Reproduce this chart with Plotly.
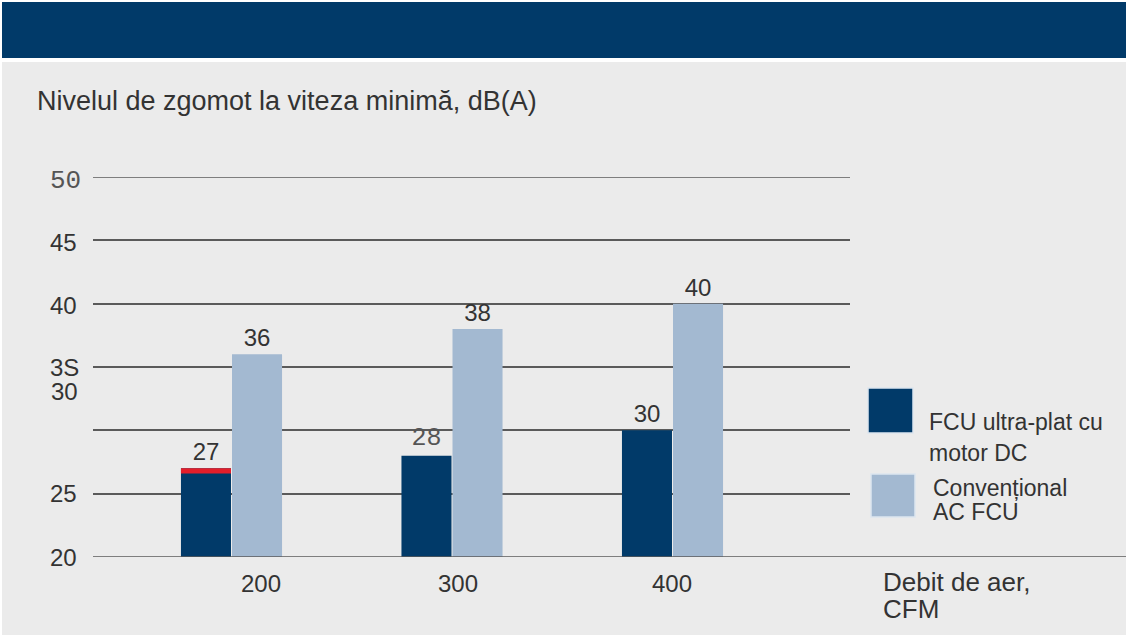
import plotly.graph_objects as go

# ---- data ----
categories = ["200", "300", "400"]
dc_motor = [27, 28, 30]          # FCU ultra-plat cu motor DC
conventional = [36, 38, 40]      # Conventional AC FCU
dc_cap = [0.4, 0, 0]             # red highlight on top of first DC bar
y_tick_vals = [20, 25, 35, 40, 45, 50]
y_tick_text = ["20", "25", "3S", "40", "45", "50"]

W, H = 1126, 635
L, R, T, B = 93, 850, 177, 557
PW, PH = R - L, B - T

def px(x):
    return (x - L) / PW

def py(y):
    return (B - y) / PH

DARK = "#013A69"
LIGHT = "#A3B9D1"
BG = "#EBEBEB"
TXT = "#333333"
SANS = "Liberation Sans, Arial, sans-serif"
MONO = "Liberation Mono, monospace"
MONO_C = "#555555"

x_idx = list(range(len(categories)))

fig = go.Figure()
fig.add_trace(go.Bar(
    x=x_idx, y=dc_motor, offsetgroup="a", marker_color=DARK, marker_line_width=0,
    text=[str(v) for v in dc_motor], textposition="outside",
    textfont=dict(family=[SANS, MONO, SANS], size=[24, 25, 24], color=[TXT, MONO_C, TXT]),
    cliponaxis=False, name="FCU ultra-plat cu motor DC", showlegend=False,
))
fig.add_trace(go.Bar(
    x=x_idx, y=dc_cap, base=[v - c for v, c in zip(dc_motor, dc_cap)], offsetgroup="a",
    marker_color="#E31E2A", marker_line_width=0, showlegend=False, hoverinfo="skip",
))
fig.add_trace(go.Bar(
    x=x_idx, y=conventional, offsetgroup="b", marker_color=LIGHT, marker_line_width=0,
    text=[str(v) for v in conventional], textposition="outside",
    textfont=dict(family=SANS, size=24, color=TXT),
    cliponaxis=False, name="Convențional AC FCU", showlegend=False,
))

# spacing: group centres at 231.5px, spacing 220.5px
x0_px, step = 231.5, 220.5
xr = [(L - x0_px) / step, (R - x0_px) / step]

shapes = [
    dict(type="rect", xref="paper", yref="paper", x0=px(2), x1=px(W + 5), y0=py(62), y1=py(H + 5),
         fillcolor=BG, line_width=0, layer="below"),
    dict(type="rect", xref="paper", yref="paper", x0=px(2), x1=px(W + 5), y0=py(58), y1=py(2),
         fillcolor="#013A69", line_width=0, layer="below"),
    dict(type="line", xref="paper", yref="y", x0=0, x1=px(W + 5), y0=20, y1=20,
         line=dict(color="#5a5a5a", width=1.5), layer="above"),
    dict(type="line", xref="paper", yref="y", x0=0, x1=1, y0=50, y1=50,
         line=dict(color="#5a5a5a", width=1.5), layer="below"),
    # legend swatches
    dict(type="rect", xref="paper", yref="paper", x0=px(868), x1=px(913), y0=py(433), y1=py(388),
         fillcolor=DARK, line=dict(color="#dde6ef", width=1.5)),
    dict(type="rect", xref="paper", yref="paper", x0=px(871), x1=px(915), y0=py(517), y1=py(474),
         fillcolor=LIGHT, line=dict(color="#dde6ef", width=1.5)),
]

ann = []
ann.append(dict(text="Nivelul de zgomot la viteza minimă, dB(A)", xref="paper", yref="paper",
                x=px(35), y=py(101), xanchor="left", yanchor="middle", showarrow=False,
                font=dict(family=SANS, size=27, color=TXT)))
# y tick labels
for v, t in zip(y_tick_vals, y_tick_text):
    mono = (t == "50")
    ann.append(dict(text=t, xref="paper", yref="y", x=px(48), y=v, xanchor="left", yanchor="middle",
                    yshift=-4 if v == 50 else (-2 if v in (40, 45) else 0), showarrow=False,
                    font=dict(family=MONO if mono else SANS, size=26 if mono else 24,
                              color=MONO_C if mono else TXT)))
ann.append(dict(text="30", xref="paper", yref="y", x=px(49), y=35, yshift=-24, xanchor="left",
                yanchor="middle", showarrow=False, font=dict(family=SANS, size=24, color=TXT)))
# x tick labels
xshifts = [29, 6, -1]
for i, c in enumerate(categories):
    ann.append(dict(text=c, xref="x", yref="paper", x=i, y=py(583), xshift=xshifts[i],
                    xanchor="center", yanchor="middle", showarrow=False,
                    font=dict(family=SANS, size=24, color=TXT)))
# axis title
ann.append(dict(text="Debit de aer,", xref="paper", yref="paper", x=px(881), y=py(582),
                xanchor="left", yanchor="middle", showarrow=False, font=dict(family=SANS, size=26, color=TXT)))
ann.append(dict(text="CFM", xref="paper", yref="paper", x=px(881), y=py(609),
                xanchor="left", yanchor="middle", showarrow=False, font=dict(family=SANS, size=26, color=TXT)))
# legend texts
for txt, xx, yy in [("FCU ultra-plat cu", 927, 422), ("motor DC", 927, 453),
                    ("Convențional", 931, 488), ("AC FCU", 931, 512)]:
    ann.append(dict(text=txt, xref="paper", yref="paper", x=px(xx), y=py(yy), xanchor="left",
                    yanchor="middle", showarrow=False, font=dict(family=SANS, size=23, color=TXT)))

fig.update_layout(
    width=W, height=H, autosize=False,
    margin=dict(l=L, r=W - R, t=T, b=H - B, pad=0),
    paper_bgcolor="white", plot_bgcolor="rgba(0,0,0,0)",
    barmode="group", bargap=0.537, bargroupgap=0.02,
    shapes=shapes, annotations=ann, showlegend=False,
    xaxis=dict(range=xr, showticklabels=False, showgrid=False, zeroline=False, showline=False,
               ticks=""),
    yaxis=dict(range=[20, 50], tickvals=[25, 30, 35, 40, 45], showticklabels=False,
               showgrid=True, gridcolor="#5a5a5a", gridwidth=1.5, zeroline=False, showline=False,
               ticks=""),
    font=dict(family=SANS, color=TXT),
)

fig.write_html("out.html", config={"displayModeBar": False},
               post_script="document.body.style.margin='0';document.body.style.overflow='hidden';")
